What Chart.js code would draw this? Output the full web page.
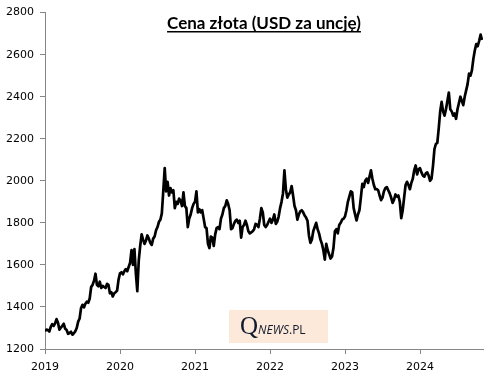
<!DOCTYPE html>
<html>
<head>
<meta charset="utf-8">
<script src="https://cdn.jsdelivr.net/npm/chart.js@4.4.1/dist/chart.umd.min.js"></script>
<style>
  html, body { margin: 0; padding: 0; background: #fff; }
  canvas { display: block; }
</style>
</head>
<body>
<canvas id="chart" width="496" height="377"></canvas>
<script>
// Weekly gold price, USD per ounce
const prices2019 = [1285, 1292, 1290, 1283, 1305, 1318, 1310, 1322, 1342, 1325, 1292, 1302, 1310,
  1320, 1296, 1290, 1272, 1276, 1282, 1268, 1275, 1284, 1300, 1330, 1345, 1395, 1410, 1398, 1415,
  1425, 1420, 1440, 1495, 1505, 1525, 1558, 1505, 1498, 1520, 1490, 1500, 1495, 1490, 1510, 1505,
  1465, 1470, 1450, 1465, 1470, 1478, 1530];
const prices2020 = [1560, 1565, 1555, 1570, 1580, 1570, 1590, 1610, 1670, 1600, 1675, 1560, 1475,
  1620, 1690, 1745, 1720, 1700, 1715, 1740, 1725, 1705, 1695, 1725, 1735, 1765, 1780, 1805, 1815,
  1845, 1950, 2060, 1950, 1995, 1930, 1965, 1945, 1955, 1870, 1900, 1890, 1915, 1905, 1880, 1945,
  1880, 1870, 1780, 1820, 1840, 1870, 1890];
const prices2021 = [1900, 1950, 1850, 1865, 1850, 1860, 1820, 1780, 1775, 1700, 1680, 1735, 1730,
  1690, 1745, 1775, 1780, 1770, 1820, 1840, 1870, 1880, 1907, 1890, 1860, 1770, 1775, 1795, 1810,
  1815, 1800, 1810, 1730, 1780, 1790, 1810, 1790, 1760, 1750, 1755, 1760, 1770, 1795, 1790, 1780,
  1820, 1870, 1850, 1790, 1780, 1790, 1805];
const prices2022 = [1820, 1800, 1815, 1840, 1795, 1805, 1830, 1870, 1900, 1940, 2050, 1960, 1920,
  1935, 1945, 1975, 1930, 1880, 1860, 1815, 1840, 1855, 1860, 1850, 1835, 1825, 1810, 1740, 1705,
  1720, 1760, 1780, 1800, 1770, 1750, 1720, 1700, 1670, 1625, 1700, 1670, 1650, 1630, 1640, 1680,
  1760, 1770, 1750, 1790, 1800, 1815, 1820];
const prices2023 = [1830, 1860, 1900, 1925, 1950, 1945, 1870, 1840, 1812, 1840, 1860, 1920, 1985,
  1970, 2000, 2010, 1990, 2020, 2050, 2010, 1980, 1960, 1960, 1955, 1930, 1908, 1920, 1950, 1965,
  1970, 1955, 1940, 1920, 1895, 1910, 1935, 1925, 1930, 1900, 1822, 1860, 1920, 1980, 1995, 1980,
  1960, 1990, 2010, 2050, 2073, 2030, 2055];
const prices2024 = [2060, 2040, 2025, 2020, 2035, 2040, 2025, 2000, 2010, 2070, 2150, 2175, 2180,
  2250, 2330, 2375, 2330, 2310, 2340, 2380, 2420, 2340, 2330, 2310, 2320, 2295, 2340, 2370, 2400,
  2380, 2360, 2400, 2430, 2460, 2510, 2500, 2525, 2580, 2620, 2650, 2640, 2665, 2695, 2670];

const years = [2019, 2020, 2021, 2022, 2023, 2024];
const pricesByYear = [prices2019, prices2020, prices2021, prices2022, prices2023, prices2024];
const yTicks = [1200, 1400, 1600, 1800, 2000, 2200, 2400, 2600, 2800];

const points = [];
years.forEach((yr, k) => {
  pricesByYear[k].forEach((v, i) => points.push({ x: yr + i / 52, y: v }));
});

const axisColor = '#868686';
const tickFont = { family: 'DejaVu Sans', size: 11 };

// title (underlined) drawn over the plot area, plus the watermark box
const overlay = {
  id: 'overlay',
  afterDraw(chart) {
    const ctx = chart.ctx;
    const area = chart.chartArea;
    const cx = (area.left + area.right) / 2;

    ctx.save();
    ctx.fillStyle = '#000';
    ctx.font = 'bold 17px Lato';
    ctx.textAlign = 'center';
    ctx.textBaseline = 'alphabetic';
    const title = 'Cena złota (USD za uncję)';
    ctx.fillText(title, cx, 29);
    const w = ctx.measureText(title).width;
    ctx.fillRect(cx - w / 2, 31, w, 1.5);

    // watermark
    ctx.fillStyle = '#fde9d9';
    ctx.fillRect(229, 310, 99, 33);
    ctx.fillStyle = '#111a2e';
    ctx.textAlign = 'left';
    ctx.font = '25px "Liberation Serif"';
    ctx.fillText('Q', 240, 334);
    let x = 240 + ctx.measureText('Q').width;
    ctx.font = 'italic 12px "Open Sans"';
    ctx.fillText('NEWS', x, 334);
    x += ctx.measureText('NEWS').width;
    ctx.font = '12px "Open Sans"';
    ctx.fillText('.PL', x, 334);
    ctx.restore();
  }
};

new Chart(document.getElementById('chart'), {
  type: 'line',
  data: {
    datasets: [{
      data: points,
      borderColor: '#000',
      borderWidth: 2.7,
      pointRadius: 0,
      tension: 0,
      borderJoinStyle: 'round'
    }]
  },
  options: {
    responsive: false,
    animation: false,
    layout: { padding: { top: 12, right: 13, left: 0, bottom: 0 } },
    plugins: { legend: { display: false }, tooltip: { enabled: false } },
    scales: {
      x: {
        type: 'linear',
        min: 2019,
        max: 2024.84,
        afterBuildTicks: (s) => { s.ticks = years.map(v => ({ value: v })); },
        afterFit: (s) => { s.height = 28; },
        grid: { drawOnChartArea: false, tickLength: 5, color: axisColor },
        border: { color: axisColor },
        ticks: { font: tickFont, color: '#000', padding: 7, maxRotation: 0, callback: (v) => String(v) }
      },
      y: {
        min: 1200,
        max: 2800,
        afterBuildTicks: (s) => { s.ticks = yTicks.map(v => ({ value: v })); },
        afterFit: (s) => { s.width = 45; },
        grid: { drawOnChartArea: false, tickLength: 5, color: axisColor },
        border: { color: axisColor },
        ticks: { font: tickFont, color: '#000', padding: 6, callback: (v) => String(v) }
      }
    }
  },
  plugins: [overlay]
});
</script>
</body>
</html>
